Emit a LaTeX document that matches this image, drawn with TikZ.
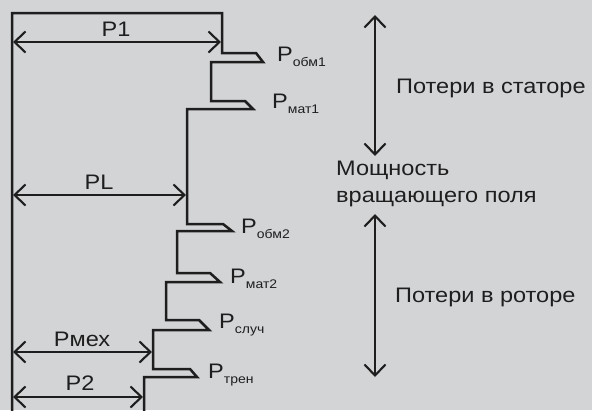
\documentclass[tikz,border=0pt]{standalone}
\usepackage{fontspec}
\setmainfont{Liberation Sans}[FakeStretch=1.12]
\usetikzlibrary{arrows.meta}
\definecolor{bg}{RGB}{211,212,214}
\definecolor{ink}{RGB}{30,30,30}
\tikzset{
  stair/.style={draw=ink, line width=2.5pt, line join=miter},
  dimarrow/.style={draw=ink, line width=2.1pt, {Straight Barb[length=11pt,width=21pt]}-{Straight Barb[length=11pt,width=21pt]}},
  txt/.style={text=ink, inner sep=0pt, anchor=base west, font=\fontsize{21}{26}\selectfont},
  dimtxt/.style={text=ink, inner sep=0pt, anchor=base, font=\fontsize{21}{26}\selectfont},
  losslbl/.style={text=ink, inner sep=0pt, anchor=base west, font=\fontsize{21}{26}\selectfont},
}
\newcommand{\lsub}[1]{\raisebox{-5pt}{\fontsize{12.5}{15}\selectfont #1}}
\begin{document}
\begin{tikzpicture}[x=1pt,y=-1pt]
\fill[bg] (0,0) rectangle (592,410);
\useasboundingbox (0,0) rectangle (592,410);
% staircase
\draw[stair] (12,412) -- (12,13) -- (222,13) -- (222,53) -- (256,53) -- (263,62) -- (211,62)
  -- (211,101) -- (245,101) -- (253,109) -- (187,109)
  -- (187,224) -- (223,224) -- (232,231) -- (177,231)
  -- (177,273) -- (210,273) -- (220,282) -- (166,282)
  -- (166,320) -- (199,320) -- (209,330) -- (153,330)
  -- (153,369) -- (190,369) -- (197,377) -- (144,377) -- (144,412);
% dimension arrows
\coordinate (p1a) at (13,42);  \coordinate (p1b) at (221,42);
\coordinate (pla) at (13,195); \coordinate (plb) at (186,195);
\coordinate (pma) at (13,352); \coordinate (pmb) at (152,352);
\coordinate (p2a) at (13,397); \coordinate (p2b) at (143,397);
\draw[dimarrow] (p1a) -- (p1b);
\draw[dimarrow] (pla) -- (plb);
\draw[dimarrow] (pma) -- (pmb);
\draw[dimarrow] (p2a) -- (p2b);
\node[dimtxt] (tp1) at (116,36) {P1};
\node[dimtxt] (tpl) at (99,189) {PL};
\node[dimtxt] (tpm) at (82,346) {Pмех};
\node[dimtxt] (tp2) at (80,390) {P2};
% loss labels
\node[losslbl] (l1) at (277,61) {P\lsub{обм1}};
\node[losslbl] (l2) at (272,108) {P\lsub{мат1}};
\node[losslbl] (l3) at (241,233) {P\lsub{обм2}};
\node[losslbl] (l4) at (230,283) {P\lsub{мат2}};
\node[losslbl] (l5) at (219,328) {P\lsub{случ}};
\node[losslbl] (l6) at (208,378) {P\lsub{трен}};
% right side
\coordinate (s1) at (375,15); \coordinate (s2) at (375,156);
\coordinate (r1) at (375,214); \coordinate (r2) at (375,377);
\draw[dimarrow] (s1) -- (s2);
\draw[dimarrow] (r1) -- (r2);
\node[txt] (stat) at (396,93) {Потери в статоре};
\node[txt] (mosh) at (336,175) {Мощность};
\node[txt] (vrash) at (336,202) {вращающего поля};
\node[txt] (rot) at (395,302) {Потери в роторе};
\end{tikzpicture}
\end{document}
